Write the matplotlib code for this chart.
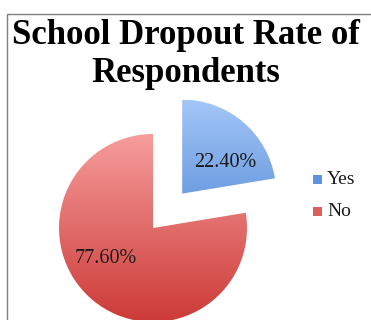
import numpy as np
import matplotlib.pyplot as plt
from matplotlib.patches import Rectangle
from matplotlib.colors import LinearSegmentedColormap

# Dados da pesquisa
categorias = ['Yes', 'No']
percentuais = [22.4, 77.6]

# Cores (topo claro, base escura) para o gradiente de cada fatia
cores_topo = ['#a3c7f7', '#f69d9c']
cores_base = ['#3a74cb', '#cc3a37']
cores_legenda = ['#5e93de', '#dc5f5c']

fig = plt.figure(figsize=(3.71, 3.20), dpi=100)
ax = fig.add_axes([0, 0, 1, 1])

fatias, textos = ax.pie(percentuais, startangle=90, counterclock=False,
                        explode=[0.48, 0], radius=1)

for i, w in enumerate(fatias):
    w.set_facecolor('none')
    w.set_edgecolor('none')
    # gradiente vertical recortado pela fatia
    x0, y0 = w.center
    cmap = LinearSegmentedColormap.from_list('g', [cores_base[i], cores_topo[i]])
    grad = np.linspace(0, 1, 256).reshape(-1, 1)
    im = ax.imshow(grad, cmap=cmap, origin='lower', aspect='auto',
                   extent=[x0 - 1, x0 + 1, y0 - 1, y0 + 1], zorder=1)
    im.set_clip_path(w)

# Raio em pixels e centro da pizza (limites definidos depois do pie/imshow)
r_px = 94
cx, cy = 153, 228
ax.set_xlim(-cx / r_px, (371 - cx) / r_px)
ax.set_ylim(-(320 - cy) / r_px, cy / r_px)
ax.set_aspect('equal')
ax.axis('off')

# Rótulos de porcentagem
pos_rotulos = [(0.77, 0.70), (-0.50, -0.32)]
for (x, y), v in zip(pos_rotulos, percentuais):
    ax.text(x, y, f'{v:.2f}%', ha='center', va='center', fontsize=14.5,
            family='Liberation Serif', color='#1a1a1a', zorder=3)

# Legenda manual
for i, cat in enumerate(categorias):
    px, py = 313, 179 + i * 32
    fig.patches.append(Rectangle((px / 371, 1 - (py + 4.5) / 320), 9 / 371, 9 / 320,
                                 transform=fig.transFigure, facecolor=cores_legenda[i],
                                 edgecolor='none'))
    fig.text((px + 14) / 371, 1 - py / 320, cat, ha='left', va='center',
             fontsize=14, family='Liberation Serif', color='#1a1a1a')

# Moldura do gráfico
fig.patches.append(Rectangle((7 / 371, -0.1), 1.2, 1 - 14 / 320 + 0.1,
                             transform=fig.transFigure, facecolor='none',
                             edgecolor='#7f7f7f', linewidth=1.0))

fig.text(0.5, 1 - 36 / 320, 'School Dropout Rate of', ha='center', va='center',
         fontsize=25, fontweight='bold', family='Liberation Serif')
fig.text(0.5, 1 - 74 / 320, 'Respondents', ha='center', va='center',
         fontsize=25, fontweight='bold', family='Liberation Serif')

fig.savefig('out.png', dpi=100)
